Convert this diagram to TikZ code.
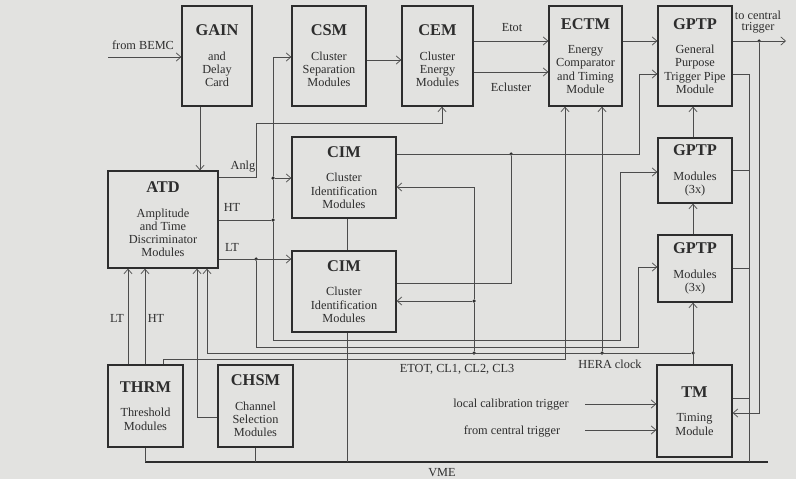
\documentclass[tikz,border=0pt]{standalone}
\usepackage{fontspec}
\setmainfont{Liberation Serif}
\usetikzlibrary{arrows.meta}
\definecolor{paper}{RGB}{226,226,224}
\definecolor{ink}{RGB}{45,45,45}
\tikzset{
  modbox/.style={draw=ink,line width=1.1pt,align=center,inner sep=0pt,text=ink,
    font=\fontsize{10.5}{11.3}\selectfont},
  conn/.style={draw=ink!85,line width=0.6pt},
  arr/.style={conn,-{Straight Barb[length=4pt,width=7pt]}},
  bus/.style={draw=ink,line width=1.1pt},
  lbl/.style={font=\fontsize{10.5}{12}\selectfont,inner sep=1pt,text=ink},
  jdot/.style={circle,fill=ink,inner sep=0pt,minimum size=3pt},
}
\newcommand{\modtitle}[1]{{\fontsize{14}{14}\selectfont\bfseries #1}\\[9.5pt]}

\begin{document}
\begin{tikzpicture}[x=0.03cm,y=-0.03cm]
% ---------- page ----------
\fill[paper] (0,0) rectangle (796,479);
\useasboundingbox (0,0) rectangle (796,479);
% ---------- modules ----------
\node[modbox,minimum width=2.10cm,minimum height=3.00cm] (gain) at (217,56) {\modtitle{GAIN}and\\Delay\\Card};
\node[modbox,minimum width=2.22cm,minimum height=3.00cm] (csm) at (329,56) {\modtitle{CSM}Cluster\\Separation\\Modules};
\node[modbox,minimum width=2.13cm,minimum height=3.00cm] (cem) at (437.5,56) {\modtitle{CEM}Cluster\\Energy\\Modules};
\node[modbox,minimum width=2.19cm,minimum height=3.00cm] (ectm) at (585.5,56) {\modtitle{ECTM}Energy\\Comparator\\and Timing\\Module};
\node[modbox,minimum width=2.22cm,minimum height=3.00cm] (gptpa) at (695,56) {\modtitle{GPTP}General\\Purpose\\Trigger Pipe\\Module};
\node[modbox,minimum width=3.12cm,minimum height=2.43cm] (cima) at (344,177.5) {\modtitle{CIM}Cluster\\Identification\\Modules};
\node[modbox,minimum width=3.12cm,minimum height=2.43cm] (cimb) at (344,291.5) {\modtitle{CIM}Cluster\\Identification\\Modules};
\node[modbox,minimum width=3.30cm,minimum height=2.91cm] (atd) at (163,219.5) {\modtitle{ATD}Amplitude\\and Time\\Discriminator\\Modules};
\node[modbox,minimum width=2.22cm,minimum height=1.95cm] (gptpb) at (695,170.5) {\modtitle{GPTP}Modules\\(3x)};
\node[modbox,minimum width=2.22cm,minimum height=2.01cm] (gptpc) at (695,268.5) {\modtitle{GPTP}Modules\\(3x)};
\node[modbox,minimum width=2.25cm,minimum height=2.46cm] (thrm) at (145.5,406) {\modtitle{THRM}Threshold\\Modules};
\node[modbox,minimum width=2.25cm,minimum height=2.46cm] (chsm) at (255.5,406) {\modtitle{CHSM}Channel\\Selection\\Modules};
\node[modbox,minimum width=2.25cm,minimum height=2.76cm] (tm) at (694.5,411) {\modtitle{TM}Timing\\Module};
% ---------- top row links ----------
\coordinate (bemc) at (108,57);
\draw[arr] (bemc) -- (gain.west |- bemc);
\node[lbl] (bemclbl) at (143,45) {from BEMC};
\draw[arr] (csm.east |- 0,60) -- (cem.west |- 0,60);
\draw[arr] (cem.east |- 0,41) -- (ectm.west |- 0,41);
\draw[arr] (cem.east |- 0,72) -- (ectm.west |- 0,72);
\node[lbl] (etot) at (512,28) {Etot};
\node[lbl] (eclus) at (511,87) {Ecluster};
\draw[arr] (ectm.east |- 0,41) -- (gptpa.west |- 0,41);
\node[jdot] (jtrig) at (759,41) {};
\coordinate (trigout) at (786,41);
\draw[arr] (gptpa.east |- 0,41) -- (trigout);
\node[lbl,align=center] (triglbl) at (758,22) {to central\\[-2pt]trigger};
\draw[arr] (jtrig) |- (tm.east |- 0,413);
\draw[arr] (gain.south -| 200,0) -- (atd.north -| 200,0);
% ---------- ATD outputs ----------
\draw[arr] (atd.east |- 0,177) -| (256,123) -| (cem.south -| 442,0);
\node[lbl] (anlg) at (243,167) {Anlg};
\node[jdot] (jht) at (273,220) {};
\node[jdot] (jcim) at (273,178) {};
\draw[conn] (atd.east |- jht) -- (jht);
\node[lbl] (htlbl) at (232,207) {HT};
\draw[arr] (jht) -- (jcim) |- (csm.west |- 0,57);
\draw[arr] (jcim) -- (cima.west |- jcim);
\draw[arr] (jht) |- (620,340) |- (gptpb.west |- 0,172);
\node[jdot] (jlt) at (256,259) {};
\draw[arr] (atd.east |- jlt) -- (cimb.west |- jlt);
\node[lbl] (ltlbl) at (232,247) {LT};
\draw[arr] (jlt) |- (638,347) |- (gptpc.west |- 0,267);
% ---------- CIM outputs ----------
\node[jdot] (jcout) at (511,154) {};
\draw[arr] (cima.east |- jcout) -| (639,74) -- (gptpa.west |- 0,74);
\draw[conn] (jcout) |- (cimb.east |- 0,283);
\draw[conn] (cima.south -| 347,0) -- (cimb.north -| 347,0);
% ---------- HERA clock ----------
\node[jdot] (jh1) at (693,353) {};
\node[jdot] (jh2) at (602,353) {};
\node[jdot] (jh3) at (474,353) {};
\node[jdot] (jh4) at (474,301) {};
\draw[arr] (tm.north -| jh1) -- (gptpc.south -| jh1);
\draw[arr] (gptpc.north -| jh1) -- (gptpb.south -| jh1);
\draw[arr] (gptpb.north -| jh1) -- (gptpa.south -| jh1);
\draw[arr] (jh1) -| (atd.south -| 207,0);
\draw[arr] (jh2) -- (ectm.south -| jh2);
\draw[arr] (jh3) -- (jh4) -- (cimb.east |- jh4);
\draw[arr] (jh4) |- (cima.east |- 0,187);
\node[lbl] (hera) at (610,364) {HERA clock};
% ---------- THRM / CHSM ----------
\draw[arr] (thrm.north -| 163,0) |- (565,359) -- (ectm.south -| 565,0);
\node[lbl] (sums) at (457,369) {ETOT, CL1, CL2, CL3};
\draw[arr] (chsm.west |- 0,417) -| (atd.south -| 197,0);
\draw[arr] (thrm.north -| 128,0) -- (atd.south -| 128,0);
\draw[arr] (thrm.north -| 145,0) -- (atd.south -| 145,0);
\node[lbl] (thlt) at (117,318) {LT};
\node[lbl] (thht) at (156,318) {HT};
% ---------- TM inputs ----------
\coordinate (calin) at (585,404);
\coordinate (ctin) at (585,430);
\draw[arr] (calin) -- (tm.west |- calin);
\draw[arr] (ctin) -- (tm.west |- ctin);
\node[lbl] (callbl) at (511,405) {local calibration trigger};
\node[lbl] (ctlbl) at (512,431) {from central trigger};
% ---------- VME ----------
\coordinate (vmeL) at (145,462);
\coordinate (vmeR) at (768,462);
\draw[bus] (vmeL) -- (vmeR);
\draw[conn] (thrm.south -| vmeL) -- (vmeL);
\draw[conn] (chsm.south) -- (chsm.south |- vmeL);
\draw[conn] (cimb.south -| 347,0) -- (347,462);
\draw[conn] (gptpa.east |- 0,74) -| (749,462);
\foreach \n/\yy in {gptpb/170,gptpc/268,tm/398}
  \draw[conn] (\n.east |- 0,\yy) -- (749,\yy);
\node[lbl] (vme) at (442,473) {VME};
\end{tikzpicture}
\end{document}
